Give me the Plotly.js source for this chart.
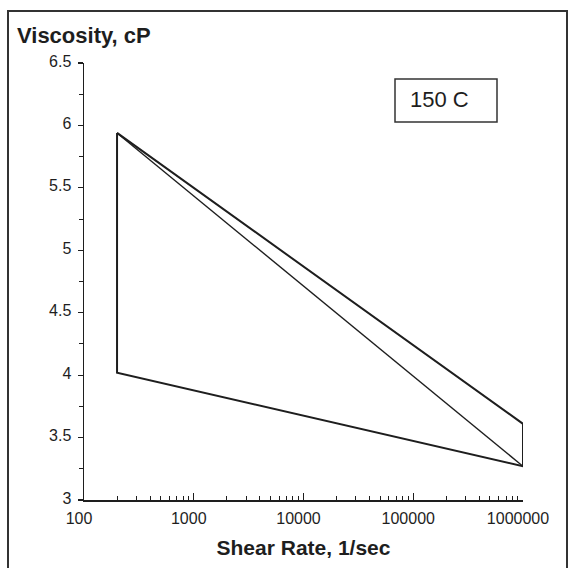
<!DOCTYPE html>
<html>
<head>
<meta charset="utf-8">
<script src="https://cdn.plot.ly/plotly-3.0.1.min.js"></script>
<style>
  html, body { margin: 0; padding: 0; background: #fff; }
  #chart { width: 573px; height: 568px; }
</style>
</head>
<body>
<div id="chart"></div>
<script>
// Viscosity envelope at 150 C over shear rate
const shearRate = [200, 1000000];          // 1/sec
const upperVisc = [5.94, 3.61];            // cP, upper bound
const lowerVisc = [4.02, 3.27];            // cP, lower bound
const diagVisc  = [5.94, 3.27];            // cP, high-start to low-end line

const xTickVals = [100, 1000, 10000, 100000, 1000000];
const xTickText = ['100', '1000', '10000', '100000', '1000000'];
const tempLabel = '150 C';

// minor ticks 2..9 inside each decade
const xMinor = [];
for (let d = 100; d < 1000000; d *= 10) {
  for (let k = 2; k <= 9; k++) xMinor.push(d * k);
}

// closed envelope: left edge, lower bound, right edge, upper bound
const envX = [shearRate[0], shearRate[0], shearRate[1], shearRate[1], shearRate[0]];
const envY = [upperVisc[0], lowerVisc[0], lowerVisc[1], upperVisc[1], upperVisc[0]];

const ink = '#1e1e1e';
const font = 'Liberation Sans, Arial, sans-serif';

const traces = [
  {
    x: envX, y: envY, mode: 'lines', type: 'scatter',
    line: { color: ink, width: 2 }, hoverinfo: 'skip'
  },
  {
    x: shearRate, y: diagVisc, mode: 'lines', type: 'scatter',
    line: { color: ink, width: 1.4 }, hoverinfo: 'skip'
  }
];

const L = 84, R = 50, T = 63, B = 68;
const W = 573 - L - R, H = 568 - T - B;
const px = v => (v - L) / W;
const py = v => (568 - B - v) / H;

const layout = {
  width: 573, height: 568,
  margin: { l: L, r: R, t: T, b: B },
  paper_bgcolor: '#fff', plot_bgcolor: '#fff',
  showlegend: false,
  font: { family: font, color: ink, size: 16 },
  title: {
    text: '<b>Viscosity, cP</b>',
    font: { family: font, size: 22, color: ink },
    xref: 'container', yref: 'container',
    x: 17 / 573, xanchor: 'left',
    y: 1 - 35 / 568, yanchor: 'middle'
  },
  xaxis: {
    type: 'log', range: [2, 6],
    tickvals: xTickVals, ticktext: xTickText,
    ticks: 'inside', ticklen: 7, tickwidth: 1.2, tickcolor: ink,
    minor: { tickvals: xMinor, ticks: 'inside', ticklen: 4, tickwidth: 1, tickcolor: ink },
    showline: true, linecolor: ink, linewidth: 1.5,
    showgrid: false, zeroline: false,
    tickfont: { family: font, size: 16, color: ink },
    ticklabelshift: -5,
    ticklabelstandoff: 3,
    title: {
      text: '<b>Shear Rate, 1/sec</b>',
      font: { family: font, size: 21, color: ink },
      standoff: 14
    }
  },
  yaxis: {
    range: [3, 6.5], dtick: 0.5, tick0: 3,
    ticks: 'outside', ticklen: 5, tickwidth: 1.2, tickcolor: ink,
    minor: { dtick: 0.25, ticks: 'outside', ticklen: 4, tickwidth: 1, tickcolor: ink },
    showline: true, linecolor: ink, linewidth: 1.5,
    showgrid: false, zeroline: false,
    tickfont: { family: font, size: 16, color: ink },
    ticklabelstandoff: 3,
    ticklabelshift: -2
  },
  shapes: [
    // outer frame (bottom edge runs past the page)
    { type: 'rect', xref: 'paper', yref: 'paper',
      x0: px(8), x1: px(567), y0: py(580), y1: py(11),
      line: { color: '#333', width: 2 }, fillcolor: 'rgba(0,0,0,0)' },
    // temperature label box
    { type: 'rect', xref: 'paper', yref: 'paper',
      x0: px(395), x1: px(497), y0: py(122), y1: py(79),
      line: { color: '#333', width: 1.5 }, fillcolor: 'rgba(0,0,0,0)' }
  ],
  annotations: [
    { text: tempLabel, xref: 'paper', yref: 'paper',
      x: px(408), xanchor: 'left', y: py(100), yanchor: 'middle',
      showarrow: false, font: { family: font, size: 22, color: ink } }
  ]
};

Plotly.newPlot('chart', traces, layout, { staticPlot: true });
</script>
</body>
</html>
